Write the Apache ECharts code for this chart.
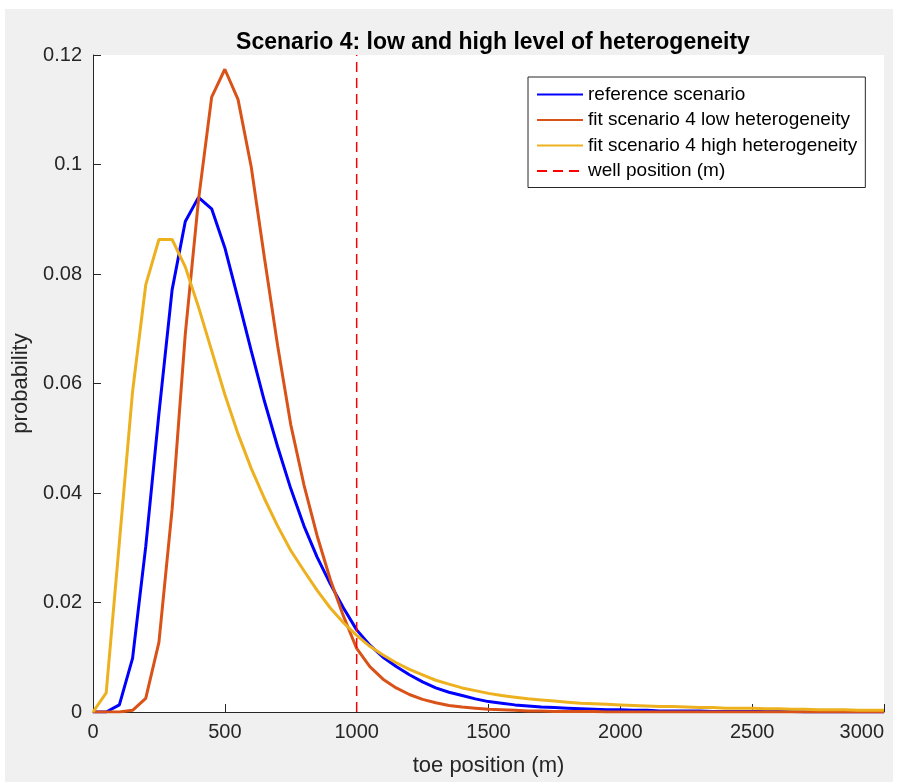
<!DOCTYPE html>
<html>
<head>
<meta charset="utf-8">
<script src="https://cdn.jsdelivr.net/npm/echarts@6/dist/echarts.min.js"></script>
<style>
  html, body { margin: 0; padding: 0; background: #fff; }
  #bg { position: absolute; left: 5px; top: 9px; width: 888px; height: 773px; background: #f0f0f0; }
  #main { position: absolute; left: 0; top: 0; width: 908px; height: 782px; }
</style>
</head>
<body>
<div id="bg"></div>
<div id="main"></div>
<script>
// toe position (m), sampled every 50 m
var toePos = [0, 50, 100, 150, 200, 250, 300, 350, 400, 450,
  500, 550, 600, 650, 700, 750, 800, 850, 900, 950,
  1000, 1050, 1100, 1150, 1200, 1250, 1300, 1350, 1400, 1450,
  1500, 1550, 1600, 1650, 1700, 1750, 1800, 1850, 1900, 1950,
  2000, 2050, 2100, 2150, 2200, 2250, 2300, 2350, 2400, 2450,
  2500, 2550, 2600, 2650, 2700, 2750, 2800, 2850, 2900, 2950, 3000];

// reference scenario
var refProb = [0, 0.0000, 0.0013, 0.0098, 0.0302, 0.0545, 0.0771, 0.0896, 0.0940, 0.0919,
  0.0848, 0.0755, 0.0660, 0.0568, 0.0485, 0.0408, 0.0340, 0.0283, 0.0234, 0.0190,
  0.0150, 0.0122, 0.0100, 0.0083, 0.0068, 0.0055, 0.0044, 0.0036, 0.0030, 0.0024,
  0.0019, 0.0016, 0.0013, 0.0011, 0.0009, 0.0008, 0.0007, 0.0006, 0.0005, 0.0004,
  0.0004, 0.0003, 0.0003, 0.0002, 0.0002, 0.0002, 0.0002, 0.0001, 0.0001, 0.0001,
  0.0001, 0.0001, 0.0001, 0.0001, 0, 0, 0, 0, 0, 0, 0];

// fit scenario 4 low heterogeneity
var lowProb = [0, 0, 0, 0.0003, 0.0025, 0.0127, 0.0370, 0.0690, 0.0935, 0.1123,
  0.1174, 0.1119, 0.0996, 0.0830, 0.0670, 0.0525, 0.0415, 0.0322, 0.0242, 0.0175,
  0.0116, 0.0083, 0.0060, 0.0044, 0.0032, 0.0023, 0.0017, 0.0012, 0.0009, 0.0007,
  0.0005, 0.0004, 0.0003, 0.0002, 0.0002, 0.0001, 0.0001, 0.0001, 0.0001, 0,
  0, 0, 0, 0, 0, 0, 0, 0, 0, 0,
  0, 0, 0, 0, 0, 0, 0, 0, 0, 0, 0];

// fit scenario 4 high heterogeneity
var highProb = [0, 0.0035, 0.0310, 0.0585, 0.0780, 0.0863, 0.0863, 0.0813, 0.0740, 0.0660,
  0.0580, 0.0508, 0.0445, 0.0390, 0.0340, 0.0295, 0.0258, 0.0222, 0.0190, 0.0163,
  0.0140, 0.0120, 0.0104, 0.0090, 0.0078, 0.0068, 0.0058, 0.0051, 0.0044, 0.0039,
  0.0034, 0.0030, 0.0027, 0.0024, 0.0022, 0.0020, 0.0018, 0.0016, 0.0015, 0.0014,
  0.0013, 0.0012, 0.0011, 0.0010, 0.0010, 0.0009, 0.0008, 0.0008, 0.0007, 0.0007,
  0.0007, 0.0006, 0.0006, 0.0005, 0.0005, 0.0004, 0.0004, 0.0004, 0.0003, 0.0003, 0.0003];

var wellX = [1000, 1000];
var wellY = [0, 0.12];

function pairs(xs, ys) {
  return xs.map(function (x, i) { return [x, ys[i]]; });
}

var font = '"Liberation Sans", Arial, Helvetica, sans-serif';
var axisColor = '#262626';

var myChart = echarts.init(document.getElementById('main'));

var option = {
  animation: false,
  title: {
    text: 'Scenario 4: low and high level of heterogeneity',
    left: 488,
    top: 26,
    textAlign: 'center',
    textStyle: { fontFamily: font, fontSize: 23, fontWeight: 'bold', color: '#000' }
  },
  legend: {
    orient: 'vertical',
    left: 528,
    top: 77,
    backgroundColor: '#fff',
    borderColor: axisColor,
    borderWidth: 1,
    borderRadius: 0,
    padding: [8, 8, 7, 8],
    itemWidth: 46,
    itemHeight: 19,
    itemGap: 6.5,
    itemStyle: { opacity: 0 },
    textStyle: { fontFamily: font, fontSize: 19, color: '#000', lineHeight: 19 },
    data: ['reference scenario', 'fit scenario 4 low heterogeneity',
      'fit scenario 4 high heterogeneity', 'well position (m)']
  },
  grid: {
    left: 93, top: 55, width: 791, height: 657,
    show: true, backgroundColor: '#fff', borderWidth: 0
  },
  xAxis: {
    type: 'value',
    min: 0, max: 3000, interval: 500,
    name: 'toe position (m)',
    nameLocation: 'middle',
    nameGap: 43,
    nameTextStyle: { fontFamily: font, fontSize: 22, color: axisColor },
    axisLine: { onZero: false, lineStyle: { color: axisColor, width: 1 } },
    axisTick: { inside: true, length: 8, lineStyle: { color: axisColor } },
    axisLabel: {
      margin: 10, fontFamily: font, fontSize: 20, color: axisColor,
      alignMaxLabel: 'right',
      formatter: function (v) { return String(v); }
    },
    splitLine: { show: false }
  },
  yAxis: {
    type: 'value',
    min: 0, max: 0.12, interval: 0.02,
    name: 'probability',
    nameLocation: 'middle',
    nameGap: 57,
    nameTextStyle: { fontFamily: font, fontSize: 22, color: axisColor },
    axisLine: { show: true, lineStyle: { color: axisColor, width: 1 } },
    axisTick: { show: true, inside: true, length: 8, lineStyle: { color: axisColor } },
    axisLabel: {
      margin: 11, fontFamily: font, fontSize: 20, color: axisColor,
      formatter: function (v) { return String(Math.round(v * 100) / 100); }
    },
    splitLine: { show: false }
  },
  series: [
    {
      name: 'reference scenario',
      type: 'line',
      symbol: 'none',
      data: pairs(toePos, refProb),
      lineStyle: { color: '#0000ff', width: 3 },
      itemStyle: { color: '#0000ff' }
    },
    {
      name: 'fit scenario 4 low heterogeneity',
      type: 'line',
      symbol: 'none',
      data: pairs(toePos, lowProb),
      lineStyle: { color: '#d95319', width: 3 },
      itemStyle: { color: '#d95319' }
    },
    {
      name: 'fit scenario 4 high heterogeneity',
      type: 'line',
      symbol: 'none',
      data: pairs(toePos, highProb),
      lineStyle: { color: '#edb120', width: 3 },
      itemStyle: { color: '#edb120' }
    },
    {
      name: 'well position (m)',
      type: 'line',
      symbol: 'none',
      data: pairs(wellX, wellY),
      lineStyle: { color: '#ff0000', width: 1.5, type: [10, 6], opacity: 1 },
      itemStyle: { color: '#ff0000' }
    }
  ]
};

myChart.setOption(option);
</script>
</body>
</html>
